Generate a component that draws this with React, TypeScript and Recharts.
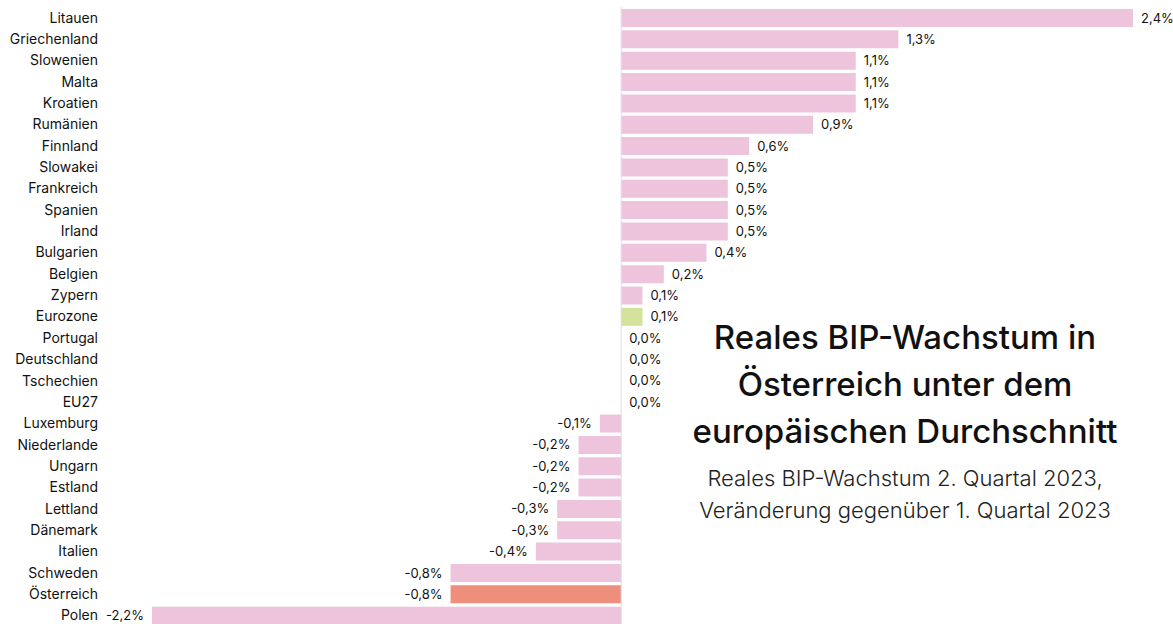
import { BarChart, Bar, XAxis, YAxis, Cell, LabelList, ReferenceLine } from "recharts";

// Reales BIP-Wachstum Q2 2023 vs. Q1 2023, EU-Länder
const countries = [
  "Litauen", "Griechenland", "Slowenien", "Malta", "Kroatien", "Rumänien", "Finnland",
  "Slowakei", "Frankreich", "Spanien", "Irland", "Bulgarien", "Belgien", "Zypern",
  "Eurozone", "Portugal", "Deutschland", "Tschechien", "EU27", "Luxemburg", "Niederlande",
  "Ungarn", "Estland", "Lettland", "Dänemark", "Italien", "Schweden", "Österreich", "Polen",
];
const growth = [
  2.4, 1.3, 1.1, 1.1, 1.1, 0.9, 0.6, 0.5, 0.5, 0.5, 0.5, 0.4, 0.2, 0.1,
  0.1, 0.0, 0.0, 0.0, 0.0, -0.1, -0.2, -0.2, -0.2, -0.3, -0.3, -0.4, -0.8, -0.8, -2.2,
];
const highlight: Record<string, string> = { Eurozone: "#d5e29b", "Österreich": "#ee8f7b" };
const barColor = "#eec4dd";

const data = countries.map((name, i) => ({ name, value: growth[i] }));

const FONT = "Inter, sans-serif";

const fmt = (v: number) => v.toFixed(1).replace(".", ",") + "%";

function ValueLabel(props: any) {
  const { x, y, width, height, value } = props;
  const left = Math.min(x, x + width);
  const right = Math.max(x, x + width);
  const neg = value < 0;
  return (
    <text
      x={neg ? left - 8 : right + 8}
      y={y + height / 2}
      dy="0.35em"
      textAnchor={neg ? "end" : "start"}
      fontFamily={FONT}
      fontSize={13}
      fill="#111"
    >
      {fmt(value)}
    </text>
  );
}

export default function App() {
  return (
    <div style={{ position: "absolute", left: 0, top: 0, width: 1173, height: 624, overflow: "hidden", background: "#fff" }}>
      <BarChart
        width={1173}
        height={626}
        data={data}
        layout="vertical"
        margin={{ top: 7, right: 40, bottom: 0, left: 0 }}
      >
        <XAxis type="number" domain={[-2.2, 2.4]} hide allowDataOverflow />
        <YAxis
          type="category"
          dataKey="name"
          width={152}
          axisLine={false}
          tickLine={false}
          tickSize={0}
          tickMargin={54}
          interval={0}
          tick={{ fontFamily: FONT, fontSize: 14, fill: "#111" }}
        />
        <ReferenceLine x={0} stroke="#dddddd" strokeWidth={1} />
        <Bar dataKey="value" barSize={18} minPointSize={0.01} isAnimationActive={false}>
          {data.map((d) => (
            <Cell key={d.name} fill={highlight[d.name] ?? barColor} />
          ))}
          <LabelList dataKey="value" content={<ValueLabel />} />
        </Bar>
      </BarChart>
      <div
        style={{
          position: "absolute",
          left: 655,
          top: 314,
          width: 500,
          textAlign: "center",
          fontFamily: FONT,
          color: "#111",
        }}
      >
        <div style={{ fontSize: 33, lineHeight: "47px", fontWeight: 500 }}>
          Reales BIP-Wachstum in
          <br />
          Österreich unter dem
          <br />
          europäischen Durchschnitt
        </div>
        <div style={{ fontSize: 22, lineHeight: "32px", fontWeight: 300, color: "#222", marginTop: 7 }}>
          Reales BIP-Wachstum 2. Quartal 2023,
          <br />
          Veränderung gegenüber 1. Quartal 2023
        </div>
      </div>
    </div>
  );
}
